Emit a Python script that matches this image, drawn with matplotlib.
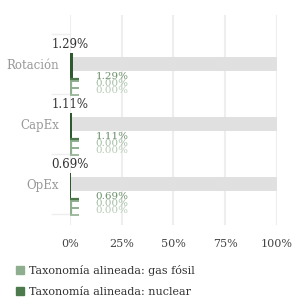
import numpy as np
import matplotlib
matplotlib.use("Agg")
import matplotlib.pyplot as plt
from matplotlib.lines import Line2D

categories = ["Rotación", "CapEx", "OpEx"]
total_aligned = [1.29, 1.11, 0.69]
aligned_other = [1.29, 1.11, 0.69]
aligned_gas = [0.00, 0.00, 0.00]
aligned_nuclear = [0.00, 0.00, 0.00]
xticks = [0, 25, 50, 75, 100]
xticklabels = ["0%", "25%", "50%", "75%", "100%"]
legend_labels = ["Taxonomía alineada: gas fósil", "Taxonomía alineada: nuclear"]

plt.rcParams['font.family'] = ['DejaVu Serif']

fig = plt.figure(figsize=(2.94, 3.02), dpi=100)
ax = fig.add_axes([0.238, 0.255, 0.704, 0.695])

dark = "#2f5a30"
c_other = "#4d7a4d"
c_gas = "#8fae8f"
c_nuc = "#9fbb9f"
lab_cols = ["#6b8f6b", "#a3bda3", "#b8cbb8"]

y = np.arange(len(categories))

# background 100% bars
ax.barh(y, [100] * len(y), height=0.23, color="#e0e0e0", zorder=1)

# main aligned bar (thin)
ax.barh(y + 0.04, total_aligned, height=0.44, color=dark, zorder=3)

prong = 4.5
for i in range(len(categories)):
    yi = y[i]
    ax.hlines(yi + 0.25, 0, prong, color=c_other, lw=1.6, zorder=3)
    ax.vlines(0.4, yi + 0.28, yi + 0.53, color=c_gas, lw=1.6, zorder=2)
    ax.hlines(yi + 0.29, 0, prong, color=c_gas, lw=1.4, zorder=2)
    ax.hlines(yi + 0.41, 0, prong, color=c_gas, lw=1.4, zorder=2)
    ax.hlines(yi + 0.52, 0, prong, color=c_nuc, lw=1.4, zorder=2)

    ax.text(0, yi - 0.325, f"{total_aligned[i]:.2f}%", ha="center", va="center",
            fontsize=8.5, color="#333333", zorder=5)
    subs = [aligned_other[i], aligned_gas[i], aligned_nuclear[i]]
    for k, v in enumerate(subs):
        ax.text(12.5, yi + 0.22 + 0.115 * k, f"{v:.2f}%", ha="left", va="center",
                fontsize=7.5, color=lab_cols[k], zorder=5)

# short lines between categories on the left
for b in [-0.5, 0.5, 1.5, 2.5]:
    ax.plot([-8.5, 0], [b, b], color="#eeeeee", lw=1, clip_on=False, zorder=0)

ax.set_xlim(0, 100)
ax.set_ylim(2.69, -0.81)
ax.set_xticks(xticks)
ax.set_xticklabels(xticklabels)
ax.set_yticks(y)
ax.set_yticklabels(categories)
ax.tick_params(axis="x", length=0, pad=10, labelsize=8, labelcolor="#444444")
ax.tick_params(axis="y", length=0, pad=8, labelsize=8.5, labelcolor="#999999")
ax.grid(axis="x", color="#eeeeee", lw=1.5, zorder=0)
ax.set_axisbelow(True)
for s in ax.spines.values():
    s.set_visible(False)

handles = [Line2D([], [], marker="s", ls="", markersize=6, color=c) for c in ["#8fae8f", "#4d7a4d"]]
fig.legend(handles, legend_labels, loc="upper left", bbox_to_anchor=(0.015, 0.155),
           frameon=False, fontsize=8, labelcolor="#333333", handletextpad=0.3,
           labelspacing=1.0, handlelength=1.0)

fig.savefig("out.png", dpi=100)
